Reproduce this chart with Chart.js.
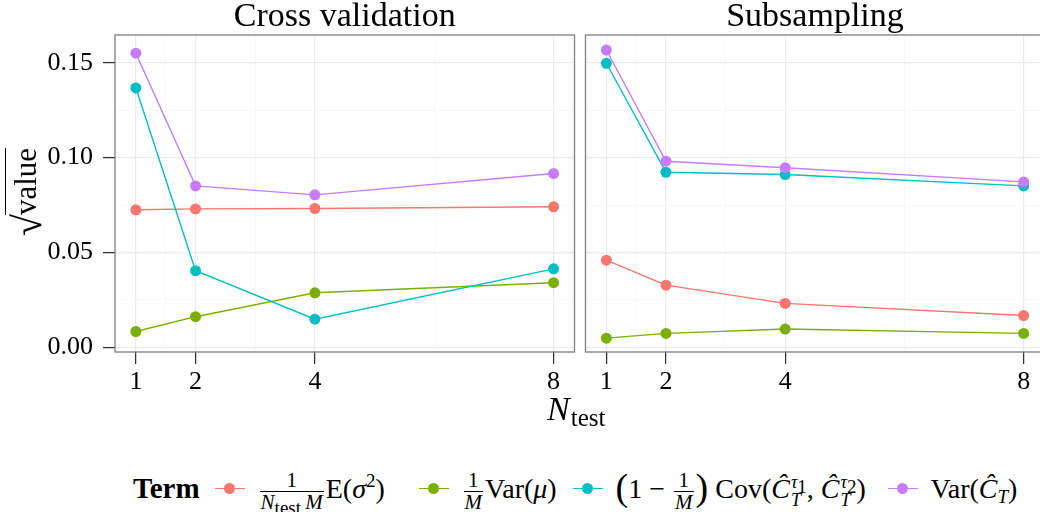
<!DOCTYPE html>
<html>
<head>
<meta charset="utf-8">
<script src="https://cdn.jsdelivr.net/npm/chart.js@4.4.1/dist/chart.umd.min.js"></script>
<style>
    html, body { margin: 0; padding: 0; background: #fff; }
    body {
        width: 1040px; height: 512px; overflow: hidden; position: relative;
        font-family: 'Liberation Serif', 'DejaVu Serif', serif; color: #000;
    }
    canvas { position: absolute; top: 0; }
    #cvChart { left: 0; }
    #subChart { left: 580px; }

    #yTitle {
        position: absolute; left: 28px; top: 192px;
        transform: translate(-50%, -50%) rotate(-90deg);
        font-size: 31px; white-space: nowrap; line-height: 1;
    }
    #yTitle .rad { font-size: 40px; vertical-align: -5px; margin-right: -1px; }
    #yTitle .radicand { border-top: 1.3px solid #000; padding-top: 2px; }

    #xTitle { position: absolute; left: 547px; top: 392px; font-size: 34px; line-height: 1; white-space: nowrap; }
    #xTitle sub { font-size: 25px; font-style: normal; vertical-align: -6px; line-height: 0; margin-left: 1px; }

    #legend {
        position: absolute; left: 133px; top: 470px;
        font-size: 28px; line-height: 30px; white-space: nowrap;
    }
    #legend b { font-size: 29px; margin-right: 15px; }
    .key { display: inline-block; position: relative; width: 30px; height: 12px; margin: 0 13px 0 0; vertical-align: middle; top: -3px; }
    .key .kline { position: absolute; left: 0; right: 0; top: 5px; height: 1.5px; }
    .key .kdot { position: absolute; left: 9.5px; top: 0; width: 11px; height: 11px; border-radius: 50%; }
    .item { display: inline-block; vertical-align: baseline; }
    .item0 { width: 138px; margin-right: 23px; }
    .item1 { width: 102px; margin-right: 9px; }
    .item2 { width: 262px; margin-right: 10px; }
    .item3 { width: 100px; }
    .frac { display: inline-block; vertical-align: middle; text-align: center; font-size: 21px; line-height: 21px; margin: 0 2px; }
    .frac > span { display: block; padding: 0 1px; }
    .frac > span + span { border-top: 1px solid #000; }
    .frac sub { font-size: 14px; vertical-align: -2px; line-height: 0; font-style: normal; }
    sup, sub { line-height: 0; }
    .item sup { font-size: 19px; vertical-align: 11px; }
    .item sub { font-size: 19px; vertical-align: -5px; }
    .big { font-size: 38px; vertical-align: -2px; line-height: 0; }
    .ss { display: inline-block; vertical-align: -8px; line-height: 18px; font-size: 18px; text-align: left; margin-left: 1px; }
    .ss > span { display: block; }
</style>
</head>
<body>
<canvas id="cvChart" width="580" height="440"></canvas>
<canvas id="subChart" width="470" height="440"></canvas>
<div id="yTitle"><span class="rad">√</span><span class="radicand">value</span></div>
<div id="xTitle"><i>N</i><sub>test</sub></div>
<div id="legend"></div>

<script>
// x positions (number of test folds) and axis breaks
const nTest = [1, 2, 4, 8];
const xMinor = [1.5, 3, 6];
const yTicks = [0, 0.05, 0.10, 0.15];
const yMinor = [0.025, 0.075, 0.125];

// variance terms, in legend order
const termColors = ['#F8766D', '#7CAE00', '#00BFC4', '#C77CFF'];
const termNames = ['1/(N_test M) E(σ²)', '1/M Var(μ)', '(1 − 1/M) Cov(Ĉ_T^τ1, Ĉ_T^τ2)', 'Var(Ĉ_T)'];
const termLabels = [
    '<span class="frac"><span>1</span><span><i>N</i><sub>test</sub>\u2009<i>M</i></span></span>E(<i>σ</i><sup>2</sup>)',
    '<span class="frac"><span>1</span><span><i>M</i></span></span>Var(<i>μ</i>)',
    '<span class="big">(</span>1 − <span class="frac"><span>1</span><span><i>M</i></span></span><span class="big">)</span> Cov(<i>Ĉ</i><span class="ss"><span><i>τ</i><sub>1</sub></span><span><i>T</i></span></span>, <i>Ĉ</i><span class="ss"><span><i>τ</i><sub>2</sub></span><span><i>T</i></span></span>)',
    'Var(<i>Ĉ</i><sub><i>T</i></sub>)'
];

// sqrt of each term, cross validation
const cvNoise = [0.0725, 0.0730, 0.0732, 0.0741];
const cvMu    = [0.0084, 0.0162, 0.0288, 0.0341];
const cvCov   = [0.1367, 0.0404, 0.0149, 0.0414];
const cvVar   = [0.1550, 0.0851, 0.0804, 0.0916];

// sqrt of each term, subsampling
const subNoise = [0.0460, 0.0328, 0.0232, 0.0168];
const subMu    = [0.0049, 0.0074, 0.0097, 0.0074];
const subCov   = [0.1497, 0.0923, 0.0911, 0.0851];
const subVar   = [0.1567, 0.0981, 0.0947, 0.0872];

const FONT = "'Liberation Serif', 'DejaVu Serif', serif";
const MAJOR_GRID = '#EBEBEB';
const MINOR_GRID = '#F6F6F6';

Chart.defaults.font.family = FONT;
Chart.defaults.color = '#000';

// grey box around each facet panel
const panelBorder = {
    id: 'panelBorder',
    afterDatasetsDraw(chart) {
        const { ctx, chartArea: a } = chart;
        ctx.save();
        ctx.strokeStyle = '#7F7F7F';
        ctx.lineWidth = 1.3;
        ctx.strokeRect(a.left, a.top, a.right - a.left, a.bottom - a.top);
        ctx.restore();
    }
};

const isMajorX = ctx => ctx.tick && nTest.includes(ctx.tick.value);
const isMajorY = ctx => ctx.tick && yTicks.includes(ctx.tick.value);

function panelChart(canvasId, title, series, showYLabels, rightPad) {
    return new Chart(document.getElementById(canvasId), {
        type: 'line',
        data: {
            datasets: series.map((vals, i) => ({
                label: termNames[i],
                data: vals.map((v, j) => ({ x: nTest[j], y: v })),
                borderColor: termColors[i],
                backgroundColor: termColors[i],
                borderWidth: 1.4,
                pointRadius: 5.5,
                pointHoverRadius: 5.5,
                pointBorderWidth: 0,
                tension: 0,
                order: series.length - i
            }))
        },
        options: {
            responsive: false,
            animation: false,
            devicePixelRatio: 1,
            layout: { padding: { top: 0, right: rightPad, bottom: 0, left: 0 } },
            plugins: {
                legend: { display: false },
                tooltip: { enabled: false },
                title: {
                    display: true,
                    text: title,
                    fullSize: false,
                    color: '#000',
                    font: { family: FONT, size: 34, weight: 'normal', lineHeight: 1 },
                    padding: { top: 0, bottom: 1 }
                }
            },
            scales: {
                x: {
                    type: 'linear',
                    min: 0.65,
                    max: 8.35,
                    afterBuildTicks: s => {
                        s.ticks = [...nTest, ...xMinor].sort((a, b) => a - b).map(v => ({ value: v }));
                    },
                    afterFit: s => { s.height = 88; },
                    border: { display: false },
                    grid: {
                        color: ctx => isMajorX(ctx) ? MAJOR_GRID : MINOR_GRID,
                        lineWidth: ctx => isMajorX(ctx) ? 1.2 : 0.8,
                        tickColor: ctx => isMajorX(ctx) ? '#333' : 'rgba(0,0,0,0)',
                        tickLength: 12,
                        tickWidth: 1.3
                    },
                    ticks: {
                        autoSkip: false,
                        maxRotation: 0,
                        padding: 3,
                        color: '#000',
                        font: { family: FONT, size: 26 },
                        callback: v => nTest.includes(v) ? String(v) : ''
                    }
                },
                y: {
                    min: -0.0024,
                    max: 0.1646,
                    afterBuildTicks: s => {
                        s.ticks = [...yTicks, ...yMinor].sort((a, b) => a - b).map(v => ({ value: v }));
                    },
                    afterFit: s => { s.width = showYLabels ? 115 : 5; },
                    border: { display: false },
                    grid: {
                        color: ctx => isMajorY(ctx) ? MAJOR_GRID : MINOR_GRID,
                        lineWidth: ctx => isMajorY(ctx) ? 1.2 : 0.8,
                        tickColor: ctx => isMajorY(ctx) ? '#333' : 'rgba(0,0,0,0)',
                        drawTicks: showYLabels,
                        tickLength: 12,
                        tickWidth: 1.3
                    },
                    ticks: {
                        display: showYLabels,
                        autoSkip: false,
                        padding: 10,
                        color: '#000',
                        font: { family: FONT, size: 26 },
                        callback: v => yTicks.includes(v) ? v.toFixed(2) : ''
                    }
                }
            }
        },
        plugins: [panelBorder]
    });
}

panelChart('cvChart', 'Cross validation', [cvNoise, cvMu, cvCov, cvVar], true, 3);
panelChart('subChart', 'Subsampling', [subNoise, subMu, subCov, subVar], false, 2);

// legend below both panels
const legend = document.getElementById('legend');
legend.innerHTML = '<b>Term</b>' + termLabels.map((html, i) =>
    '<span class="key"><span class="kline" style="background:' + termColors[i] + '"></span>' +
    '<span class="kdot" style="background:' + termColors[i] + '"></span></span>' +
    '<span class="item item' + i + '">' + html + '</span>'
).join('');
</script>
</body>
</html>
